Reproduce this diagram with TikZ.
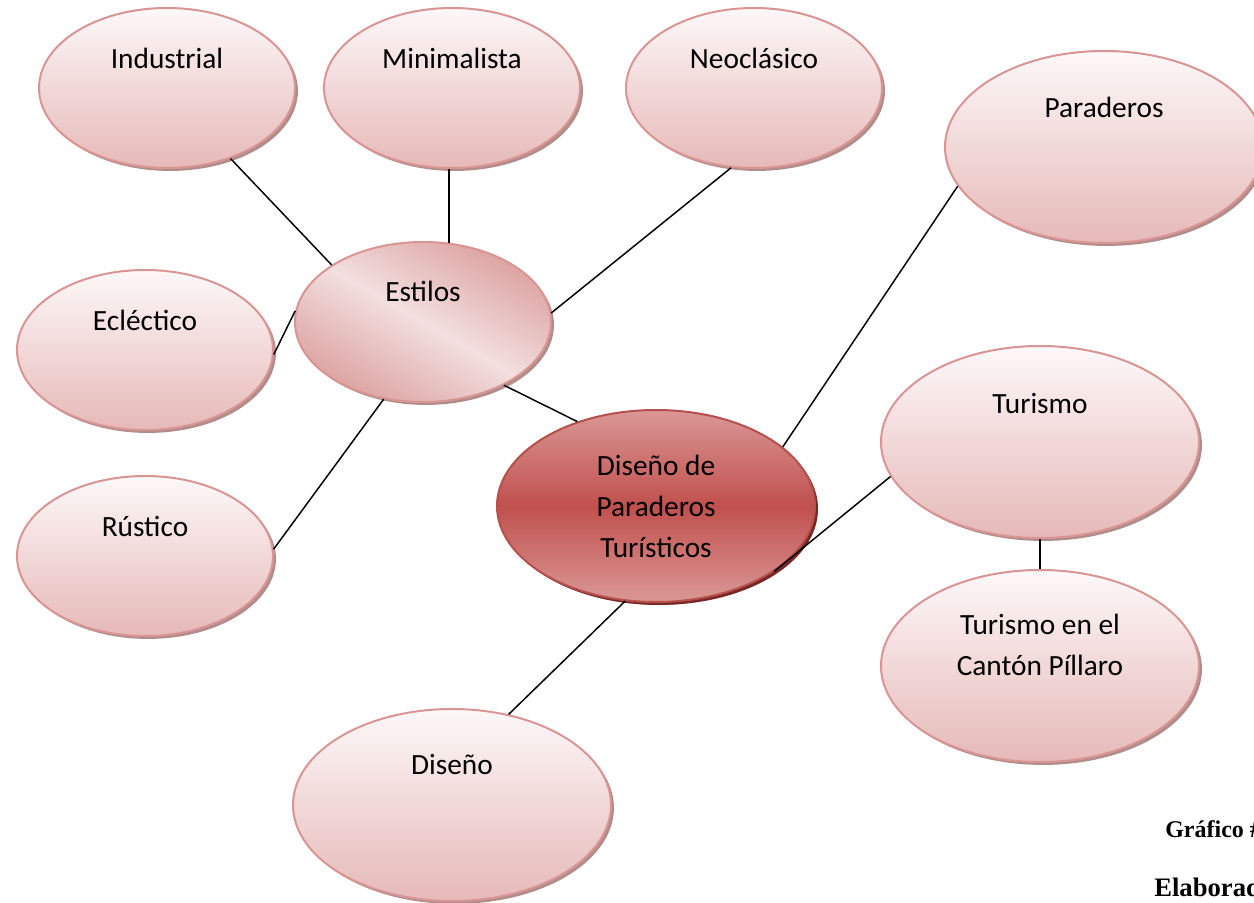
\documentclass[tikz,border=0pt]{standalone}
\usepackage{fontspec}
\setmainfont{Carlito}
\newfontfamily\capfont{Liberation Serif}
\usetikzlibrary{shapes.geometric,shadows}
\definecolor{bubline}{HTML}{D99594}
\definecolor{bubtop}{HTML}{FDF8F8}
\definecolor{bubbot}{HTML}{E6B9B8}
\definecolor{bubshadow}{HTML}{B08C8B}
\definecolor{midred}{HTML}{C0504D}
\definecolor{midlight}{HTML}{DA9896}
\definecolor{midline}{HTML}{B5504D}
\definecolor{midshadow}{HTML}{7A2624}
\definecolor{estdark}{HTML}{DCA3A2}
\definecolor{estlight}{HTML}{F3DFDF}
\newcommand{\bubsize}{\fontsize{22}{30.75}\selectfont}
\tikzset{
  bub/.style={ellipse, draw=bubline, line width=1.5pt, top color=bubtop, bottom color=bubbot,
    minimum width=192pt, minimum height=120pt, inner sep=0pt,
    general shadow={fill=bubshadow, shadow xshift=2.2pt, shadow yshift=-2.2pt}},
  bigbub/.style={bub, minimum width=238.5pt, minimum height=144pt},
  lbl/.style={font=\bubsize, inner sep=0pt},
  conn/.style={draw=black, line width=1.1pt},
  captxt/.style={font=\capfont\bfseries, anchor=base west, inner sep=0pt},
}
\begin{document}
\begin{tikzpicture}[x=0.75pt, y=-0.75pt]
\clip (0,0) rectangle (1254,903);
\fill[white] (0,0) rectangle (1254,903);
% bubbles
\node[bub, label={[lbl, yshift=22.5pt]center:Industrial}] (ind) at (167,88) {};
\node[bub, label={[lbl, yshift=22.5pt]center:Minimalista}] (min) at (452,88) {};
\node[bub, label={[lbl, yshift=22.5pt]center:Neoclásico}] (neo) at (754,88) {};
\node[bub, label={[lbl, yshift=22.5pt]center:Ecléctico}] (ecl) at (145,350) {};
\node[bub, label={[lbl, yshift=22.5pt]center:Rústico}] (rus) at (145,556) {};
\node[bub, draw=bubline, top color=estdark, bottom color=estdark, middle color=estlight, shading angle=-30,
      label={[lbl, yshift=23pt]center:Estilos}] (est) at (423,322) {};
\node[bigbub, label={[lbl, yshift=30pt]center:Paraderos}] (par) at (1104,147) {};
\node[bigbub, label={[lbl, yshift=29pt]center:Turismo}] (tur) at (1040,442) {};
\node[bigbub, label={[lbl, align=center, yshift=16pt]center:Turismo en el\\Cantón Píllaro}] (tcp) at (1040,666) {};
\node[bigbub, label={[lbl, yshift=30pt]center:Diseño}] (dis) at (452,805) {};
\node[bigbub, draw=midline, top color=midlight, bottom color=midlight, middle color=midred,
      general shadow={fill=midshadow, shadow xshift=2.2pt, shadow yshift=-2.2pt},
      font=\bubsize, align=center] (dpt) at (656,506) {Diseño de\\Paraderos\\Turísticos};
% connectors
\draw[conn] (ind.-48) -- (est.148);
\draw[conn] (est.72) -- (est.72 |- min.south);
\draw[conn] (neo.-106) -- (est.4);
\draw[conn] (ecl.-2) -- (est.175);
\draw[conn] (rus.3) -- (est.-117);
\draw[conn] (est.-38) -- (dpt.133);
\draw[conn] (dpt.25) -- (par.-165);
\draw[conn] (dpt.-29) -- (tur.-167);
\draw[conn] (tur.south) -- (tcp.north);
\draw[conn] (dpt.-108) -- (dis.58);
% caption (cut off at the right edge, as in the reference)
\node[captxt, font=\capfont\bfseries\fontsize{18}{20}\selectfont] (gra) at (1165,837) {Gráfico \#};
\node[captxt, font=\capfont\bfseries\fontsize{20}{22}\selectfont] (ela) at (1154,896) {Elaborado};
\end{tikzpicture}
\end{document}
